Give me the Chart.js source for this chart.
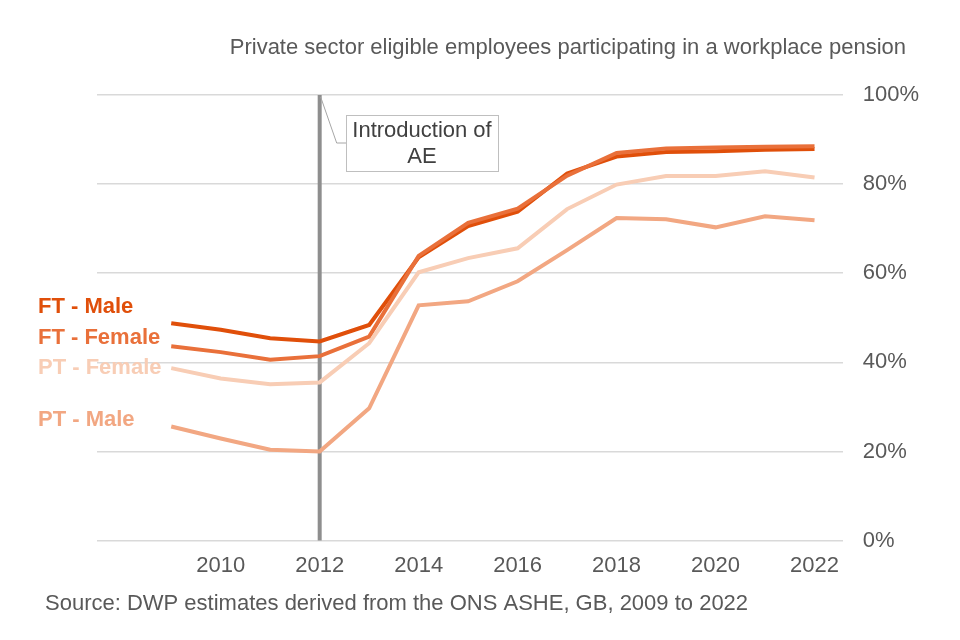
<!DOCTYPE html>
<html>
<head>
<meta charset="utf-8">
<script src="https://cdn.jsdelivr.net/npm/chart.js@4/dist/chart.umd.min.js"></script>
<style>
  html, body { margin: 0; padding: 0; background: #fff; }
  #wrap { width: 960px; height: 640px; position: relative; }
</style>
</head>
<body>
<div id="wrap"><canvas id="grafico"></canvas></div>
<script>
const anos = [2009, 2010, 2011, 2012, 2013, 2014, 2015, 2016, 2017, 2018, 2019, 2020, 2021, 2022];
const ftMale = [48.8, 47.3, 45.4, 44.7, 48.4, 63.6, 70.6, 73.8, 82.4, 86.2, 87.2, 87.4, 87.7, 87.9];
const ftFemale = [43.6, 42.3, 40.6, 41.4, 45.8, 63.9, 71.3, 74.5, 81.9, 87.0, 88.0, 88.2, 88.4, 88.5];
const ptFemale = [38.7, 36.4, 35.1, 35.5, 44.3, 60.2, 63.4, 65.6, 74.4, 79.9, 81.8, 81.8, 82.9, 81.5];
const ptMale = [25.6, 22.9, 20.4, 20.0, 29.7, 52.8, 53.7, 58.2, 65.2, 72.4, 72.1, 70.3, 72.8, 71.9];
const xTicks = [2010, 2012, 2014, 2016, 2018, 2020, 2022];
const yTicks = [0, 20, 40, 60, 80, 100];

const series = [
  { nome: "PT - Male", valores: ptMale, cor: "#F2A782", labelY: 420 },
  { nome: "PT - Female", valores: ptFemale, cor: "#F8CDB5", labelY: 368 },
  { nome: "FT - Female", valores: ftFemale, cor: "#E9703A", labelY: 338 },
  { nome: "FT - Male", valores: ftMale, cor: "#E04F0A", labelY: 307 }
];

const cinza = "#595959";
const fonte = "'Liberation Sans', Arial, sans-serif";

// linha vertical, caixa de anotação, títulos e rótulos das séries
const extras = {
  id: "extras",
  beforeDatasetsDraw(chart) {
    const { ctx, chartArea, scales } = chart;
    const x = scales.x.getPixelForValue(2012);
    ctx.save();
    ctx.strokeStyle = "#8E8E8E";
    ctx.lineWidth = 4;
    ctx.beginPath();
    ctx.moveTo(x, chartArea.top);
    ctx.lineTo(x, chartArea.bottom);
    ctx.stroke();
    ctx.restore();
  },
  afterDraw(chart) {
    const { ctx, scales } = chart;
    const x = scales.x.getPixelForValue(2012);
    ctx.save();
    // leader line
    ctx.strokeStyle = "#A6A6A6";
    ctx.lineWidth = 1;
    ctx.beginPath();
    ctx.moveTo(x + 1, 97);
    ctx.lineTo(x + 17, 143);
    ctx.lineTo(346, 143);
    ctx.stroke();
    // box
    ctx.fillStyle = "#fff";
    ctx.fillRect(346, 115, 152, 56);
    ctx.strokeStyle = "#BFBFBF";
    ctx.strokeRect(346.5, 115.5, 152, 56);
    ctx.fillStyle = "#404040";
    ctx.font = "22px " + fonte;
    ctx.textAlign = "center";
    ctx.textBaseline = "middle";
    ctx.fillText("Introduction of", 422, 131);
    ctx.fillText("AE", 422, 157);

    // title and source
    ctx.fillStyle = cinza;
    ctx.textAlign = "right";
    ctx.font = "22px " + fonte;
    ctx.fillText("Private sector eligible employees participating in a workplace pension", 906, 48);
    ctx.textAlign = "left";
    ctx.fillText("Source: DWP estimates derived from the ONS ASHE, GB, 2009 to 2022", 45, 604);

    // series labels
    ctx.font = "bold 22px " + fonte;
    series.forEach(s => {
      ctx.fillStyle = s.cor;
      ctx.fillText(s.nome, 38, s.labelY);
    });
    ctx.restore();
  }
};

new Chart(document.getElementById("grafico"), {
  type: "line",
  data: {
    datasets: series.map(s => ({
      label: s.nome,
      data: anos.map((a, i) => ({ x: a, y: s.valores[i] })),
      borderColor: s.cor,
      borderWidth: 4,
      pointRadius: 0,
      tension: 0,
      fill: false
    }))
  },
  options: {
    responsive: true,
    maintainAspectRatio: false,
    animation: false,
    layout: { padding: { top: 95, left: 97, right: 21, bottom: 49 } },
    plugins: { legend: { display: false }, tooltip: { enabled: false } },
    scales: {
      x: {
        type: "linear",
        min: 2007.5,
        max: 2022.57,
        afterBuildTicks: s => { s.ticks = xTicks.map(v => ({ value: v })); },
        grid: { display: false, drawTicks: false },
        border: { display: false },
        ticks: {
          color: cinza,
          font: { size: 22, family: fonte },
          padding: 12,
          maxRotation: 0,
          callback: v => String(v)
        }
      },
      y: {
        position: "right",
        min: 0,
        max: 100,
        afterBuildTicks: s => { s.ticks = yTicks.map(v => ({ value: v })); },
        grid: { color: "#D9D9D9", lineWidth: 1.5, drawTicks: false },
        border: { display: false },
        ticks: {
          color: cinza,
          font: { size: 22, family: fonte },
          padding: 20,
          callback: v => v + "%"
        }
      }
    }
  },
  plugins: [extras]
});
</script>
</body>
</html>
